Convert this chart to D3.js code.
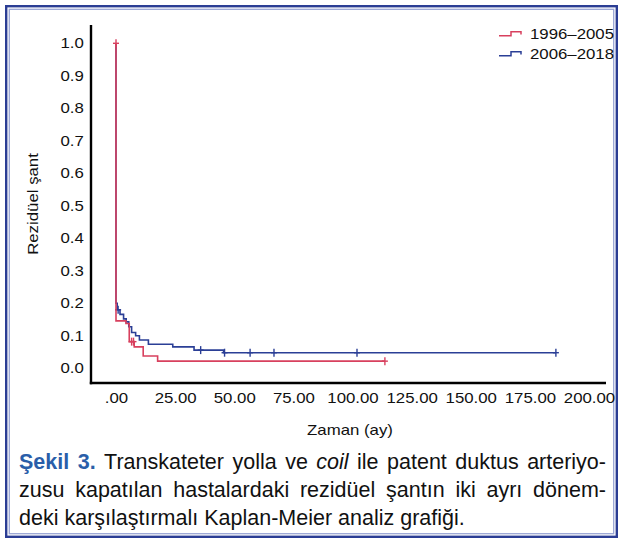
<!DOCTYPE html>
<html><head><meta charset="utf-8">
<script src="https://cdn.jsdelivr.net/npm/d3@7"></script>
<style>body{margin:0;background:#fff}svg{display:block}</style>
</head><body>
<svg id="c" width="623" height="546"></svg>
<script>
// ---- data ----
const seriesNames = ["1996–2005", "2006–2018"];
const seriesColors = ["#d8405e", "#2b3f96"];
// red: 1996–2005 (event times, survival after each event)
const redTimes  = [0, 0,     4.2,   5.6,   7.7,   11.5,  17.6];
const redValues = [1.0, 0.146, 0.138, 0.082, 0.066, 0.038, 0.022];
const redEnd = 113.7;
const redCensorTimes  = [0, 6.6, 7.4, 113.7];
const redCensorValues = [1.0, 0.082, 0.082, 0.022];
// blue: 2006–2018
const blueTimes  = [0, 0,   0.5,  1.7,   3.2,   4.3,   5.4,   6.6,  8.3,  9.9,   13.7,  24,    33,    45.5];
const blueValues = [1.0, 0.2, 0.18, 0.166, 0.152, 0.143, 0.128, 0.11, 0.10, 0.087, 0.074, 0.066, 0.056, 0.048];
const blueEnd = 186;
const blueCensorTimes  = [0.9, 35.8, 45.9, 56.7, 66.8, 101.9, 186];
const blueCensorValues = [0.18, 0.056, 0.048, 0.048, 0.048, 0.048, 0.048];
const xTicks = [0, 25, 50, 75, 100, 125, 150, 175, 200];
const xTickLabels = [".00", "25.00", "50.00", "75.00", "100.00", "125.00", "150.00", "175.00", "200.00"];
const yTicks = [0, 0.1, 0.2, 0.3, 0.4, 0.5, 0.6, 0.7, 0.8, 0.9, 1.0];
const xTitle = "Zaman (ay)";
const yTitle = "Rezidüel şant";
const captionLines = [
  [["Şekil","b"],["3.","b"],["Transkateter"],["yolla"],["ve"],["coil","i"],["ile"],["patent"],["duktus"],["arteriyo-"]],
  [["zusu"],["kapatılan"],["hastalardaki"],["rezidüel"],["şantın"],["iki"],["ayrı"],["dönem-"]],
  [["deki"],["karşılaştırmalı"],["Kaplan-Meier"],["analiz"],["grafiği."]]
];

// ---- layout ----
const svg = d3.select("#c");
const FONT = "'Liberation Sans', Arial, Helvetica, sans-serif";
const SX = 1.2; // horizontal stretch of chart text

// frame
svg.append("rect").attr("x",6.2).attr("y",6.2).attr("width",610.6).attr("height",530.6)
  .attr("fill","none").attr("stroke","#2b3d94").attr("stroke-width",2.4);
svg.append("rect").attr("x",9.3).attr("y",9.3).attr("width",604.4).attr("height",524.4)
  .attr("fill","none").attr("stroke","#9aa5d4").attr("stroke-width",1.3);

const x = d3.scaleLinear().domain([0,200]).range([116,589]);
const y = d3.scaleLinear().domain([0,1]).range([368.3,43.3]);

// axes (labels via d3 axes)
const yAx = svg.append("g").attr("transform","translate(91,0)")
  .call(d3.axisLeft(y).tickValues(yTicks).tickSize(0).tickPadding(6).tickFormat(d3.format(".1f")));
const xAx = svg.append("g").attr("transform","translate(0,383)")
  .call(d3.axisBottom(x).tickValues(xTicks).tickSize(0).tickPadding(10).tickFormat((d,i)=>xTickLabels[i]));
[yAx,xAx].forEach(g=>{
  g.select(".domain").remove();
  g.selectAll("text").attr("font-family",FONT).attr("font-size",14).attr("fill","#111")
   .attr("transform",`scale(${SX},1)`);
});
// axis lines
svg.append("line").attr("x1",91).attr("x2",91).attr("y1",25).attr("y2",384.2).attr("stroke","#000").attr("stroke-width",2.4);
svg.append("line").attr("x1",89.8).attr("x2",606).attr("y1",383).attr("y2",383).attr("stroke","#000").attr("stroke-width",2.4);

// titles
svg.append("text").attr("font-family",FONT).attr("font-size",14).attr("fill","#111")
  .attr("text-anchor","middle").attr("transform",`translate(350,435) scale(${SX},1)`).text(xTitle);
svg.append("text").attr("font-family",FONT).attr("font-size",14).attr("fill","#111")
  .attr("text-anchor","middle").attr("transform",`translate(38,204) rotate(-90) scale(${SX},1)`).text(yTitle);

// curves
const line = d3.line().x(d=>x(d[0])).y(d=>y(d[1])).curve(d3.curveStepAfter);
function series(times, values, end, cTimes, cValues, color){
  const pts = times.map((t,i)=>[t, values[i]]);
  pts.push([end, values[values.length-1]]);
  svg.append("path").attr("d", line(pts)).attr("fill","none").attr("stroke",color).attr("stroke-width",1.6);
  const g = svg.append("g").attr("stroke",color).attr("stroke-width",1.4);
  cTimes.forEach((t,i)=>{
    const cx = x(t), cy = y(cValues[i]);
    g.append("line").attr("x1",cx).attr("x2",cx).attr("y1",cy-4).attr("y2",cy+4);
    g.append("line").attr("x1",cx-3).attr("x2",cx+3).attr("y1",cy).attr("y2",cy);
  });
}
series(blueTimes, blueValues, blueEnd, blueCensorTimes, blueCensorValues, seriesColors[1]);
series(redTimes, redValues, redEnd, redCensorTimes, redCensorValues, seriesColors[0]);

// legend
const leg = svg.append("g").attr("transform","translate(499,0)");
seriesNames.forEach((name,i)=>{
  const gy = 33.5 + i*20;
  leg.append("path").attr("d",`M0,${gy+2.2}H12V${gy-1.8}H22V${gy+1}`)
    .attr("fill","none").attr("stroke",seriesColors[i]).attr("stroke-width",1.5);
  leg.append("text").attr("font-family",FONT).attr("font-size",14).attr("fill","#111")
    .attr("transform",`translate(31,${gy+5}) scale(${SX},1)`).text(name);
});

// caption (justified lines)
const capFS = 21.5, capX0 = 19, capX1 = 606, capY0 = 469, capLH = 28;
const cap = svg.append("g").attr("font-family",FONT).attr("font-size",capFS).attr("fill","#111");
captionLines.forEach((words, li)=>{
  const items = words.map(([w,st])=>{
    const t = cap.append("text").attr("y", capY0 + li*capLH).text(w);
    if (st==="b") t.attr("font-weight","bold").attr("fill","#2a5ea9");
    if (st==="i") t.attr("font-style","italic");
    return {t, w: t.node().getComputedTextLength()};
  });
  const total = d3.sum(items, d=>d.w);
  const justify = li < captionLines.length-1;
  const space = justify ? (capX1-capX0-total)/(items.length-1) : capFS*0.278;
  let cx = capX0;
  items.forEach(it=>{ it.t.attr("x", cx); cx += it.w + space; });
});
</script>
</body></html>
